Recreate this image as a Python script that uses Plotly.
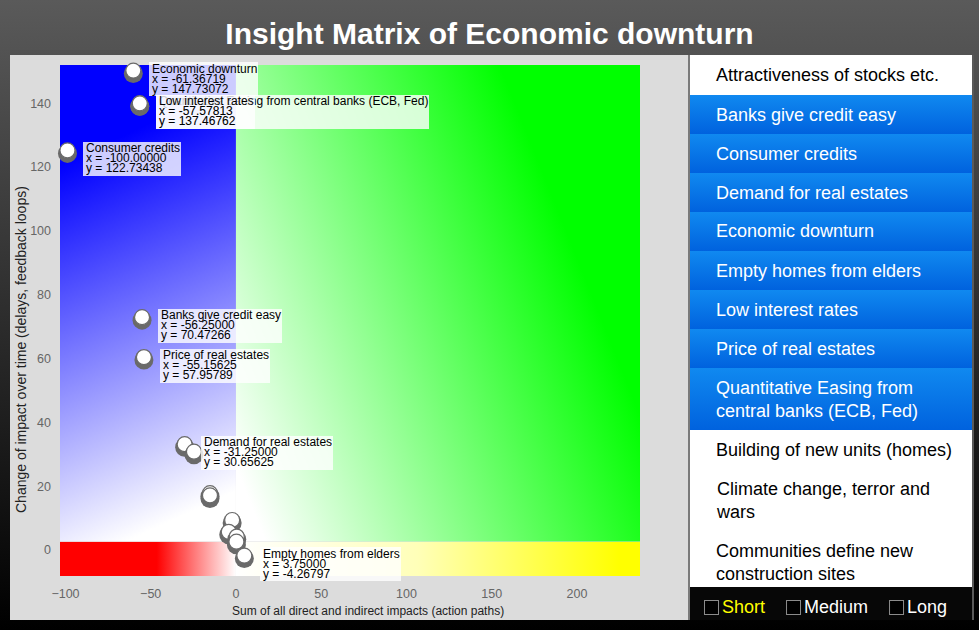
import base64
import plotly.graph_objects as go

# ---------------- data ----------------
chart_title = "Insight Matrix of Economic downturn"
x_axis_title = "Sum of all direct and indirect impacts (action paths)"
y_axis_title = "Change of impact over time (delays, feedback loops)"
x_tick_values = [-100, -50, 0, 50, 100, 150, 200]
y_tick_values = [0, 20, 40, 60, 80, 100, 120, 140]

# factors shown with a label (selected in the list)
labelled_names = [
    "Economic downturn",
    "Quantitative Easing from central banks (ECB, Fed)",
    "Low interest rates",
    "Consumer credits",
    "Banks give credit easy",
    "Price of real estates",
    "Demand for real estates",
    "Empty homes from elders",
]
labelled_x = [-61.36719, -57.57813, -57.57813, -100.0, -56.25, -55.15625, -31.25, 3.75]
labelled_y = [147.73072, 137.46762, 137.46762, 122.73438, 70.47266, 57.95789, 30.65625, -4.26797]

# factors without a label (not selected)
other_x = [-25.8, -16.4, -16.4, -3.4, -5.4, -0.7, -0.9]
other_y = [28.3, 15.3, 14.6, 6.9, 3.2, 1.7, 0.1]

list_items = [
    "Attractiveness of stocks etc.",
    "Banks give credit easy",
    "Consumer credits",
    "Demand for real estates",
    "Economic downturn",
    "Empty homes from elders",
    "Low interest rates",
    "Price of real estates",
    "Quantitative Easing from central banks (ECB, Fed)",
    "Building of new units (homes)",
    "Climate change, terror and wars",
    "Communities define new construction sites",
]
list_selected = [False, True, True, True, True, True, True, True, True, False, False, False]

period_options = ["Short", "Medium", "Long"]
period_active = [True, False, False]

# ---------------- layout constants ----------------
W, H = 979, 630
ML, MR, MT, MB = 60, 339, 65, 54
PW, PH = W - ML - MR, H - MT - MB
X_RANGE = [-103.2, 237.0]
Y_RANGE = [-8.15, 152.0]
X_SPLIT, Y_SPLIT = 0.0, 2.6
XS = PW / (X_RANGE[1] - X_RANGE[0])   # px per x unit
YS = PH / (Y_RANGE[1] - Y_RANGE[0])   # px per y unit
FONT = "Liberation Sans, Arial, Helvetica, sans-serif"


def pxx(px):
    return (px - ML) / PW


def pxy(py):
    return (H - MB - py) / PH


AW = {}
for chars, w in [("ijl", 222), (" ftI.,/:;!", 278), ("r-()", 333), ("cksvxyzJ", 500),
                 ("abdeghnopqu0123456789L", 556), ("=+", 584), ("FTZ", 611),
                 ("ABEKPSVXY", 667), ("CDHNRUw", 722), ("GOQ", 778), ("mM", 833), ("W", 944)]:
    for c in chars:
        AW[c] = w


def text_w(s, size):
    return sum(AW.get(c, 556) for c in s) * size / 1000.0


def wrap(s, size, maxw):
    lines, cur = [], ""
    for word in s.split(" "):
        t = (cur + " " + word) if cur else word
        if cur and text_w(t, size) > maxw:
            lines.append(cur)
            cur = word
        else:
            cur = t
    lines.append(cur)
    return lines


def svg_uri(body, w, h):
    svg = (f'<svg xmlns="http://www.w3.org/2000/svg" width="{w}" height="{h}" '
           f'viewBox="0 0 {w} {h}" preserveAspectRatio="none">{body}</svg>')
    return "data:image/svg+xml;base64," + base64.b64encode(svg.encode()).decode()


def grad_svg(x1, y1, x2, y2, stops):
    st = "".join(f'<stop offset="{o}" stop-color="{c}"/>' for o, c in stops)
    body = (f'<defs><linearGradient id="g" x1="{x1}" y1="{y1}" x2="{x2}" y2="{y2}">{st}'
            f'</linearGradient></defs><rect width="100" height="100" fill="url(#g)"/>')
    return svg_uri(body, 100, 100)


annotations = []
images = []

# ---------------- page background, panel, list ----------------
LIST_X0, LIST_X1, LIST_Y0, LIST_Y1 = 690, 972, 56, 587
ROW_FONT = 18
rows_svg = ""
row_y = LIST_Y0
for name, sel in zip(list_items, list_selected):
    lines = wrap(name, ROW_FONT, 240)
    hgt = 39 + 23 * (len(lines) - 1)
    fill = "url(#row)" if sel else "#ffffff"
    rows_svg += f'<rect x="{LIST_X0}" y="{row_y}" width="{LIST_X1 - LIST_X0}" height="{hgt}" fill="{fill}"/>'
    annotations.append(dict(
        x=pxx(714), y=pxy(row_y + hgt / 2), xref="paper", yref="paper",
        text="<br>".join(lines), showarrow=False, xanchor="left", yanchor="middle", align="left",
        font=dict(family=FONT, size=ROW_FONT, color="#ffffff" if sel else "#000000")))
    row_y += hgt

boxes_svg = ""
cx = 704
for opt, act in zip(period_options, period_active):
    boxes_svg += f'<rect x="{cx + 0.5}" y="600.5" width="14" height="14" fill="#000" stroke="#8c8c8c" stroke-width="1"/>'
    annotations.append(dict(
        x=pxx(cx + 16), y=pxy(607), xref="paper", yref="paper", text=opt, showarrow=False,
        xanchor="left", yanchor="middle",
        font=dict(family=FONT, size=18, color="#ffff00" if act else "#ffffff")))
    cx += 17 + text_w(opt, 18) + 22

page_body = (
    '<defs>'
    '<linearGradient id="bg" x1="0" y1="0" x2="0" y2="1">'
    '<stop offset="0" stop-color="#5a5a5a"/><stop offset="1" stop-color="#000000"/></linearGradient>'
    '<linearGradient id="row" x1="0" y1="0" x2="0" y2="1">'
    '<stop offset="0" stop-color="#1089f0"/><stop offset="1" stop-color="#0062de"/></linearGradient>'
    '</defs>'
    f'<rect width="{W}" height="{H}" fill="url(#bg)"/>'
    '<rect x="10" y="55" width="678" height="565" fill="#dcdcdc"/>'
    '<rect x="688" y="55" width="2" height="565" fill="#7a7a7a"/>'
    f'<rect x="{LIST_X0}" y="55" width="{LIST_X1 - LIST_X0}" height="{LIST_Y1 - 55}" fill="#ffffff"/>'
    + rows_svg +
    f'<rect x="{LIST_X1}" y="55" width="2" height="565" fill="#5a5a5a"/>'
    f'<rect x="{LIST_X0}" y="{LIST_Y1}" width="{LIST_X1 - LIST_X0}" height="{620 - LIST_Y1}" fill="#070707"/>'
    + boxes_svg
)
images.append(dict(source=svg_uri(page_body, W, H), xref="paper", yref="paper",
                   x=pxx(0), y=pxy(0), sizex=W / PW, sizey=H / PH,
                   xanchor="left", yanchor="top", sizing="stretch", layer="below"))

# ---------------- quadrant gradients (data coordinates) ----------------
quads = [
    (X_RANGE[0], Y_RANGE[1], X_SPLIT - X_RANGE[0], Y_RANGE[1] - Y_SPLIT,
     grad_svg(0, 0.21, 0.142, 1.04, [(0, "#0000ff"), (1, "#ffffff")])),
    (X_SPLIT, Y_RANGE[1], X_RANGE[1] - X_SPLIT, Y_RANGE[1] - Y_SPLIT,
     grad_svg(0, 0.8444, 0.8597, 0.4372, [(0, "#ffffff"), (1, "#00ff00")])),
    (X_RANGE[0], Y_SPLIT, X_SPLIT - X_RANGE[0], Y_SPLIT - Y_RANGE[0],
     grad_svg(0, 0, 1, 0, [(0, "#ff0000"), (0.55, "#ff0000"), (1, "#ffffff")])),
    (X_SPLIT, Y_SPLIT, X_RANGE[1] - X_SPLIT, Y_SPLIT - Y_RANGE[0],
     grad_svg(0, 0, 1, 0, [(0, "#ffffff"), (0.45, "#ffffb8"), (0.95, "#ffff00"), (1, "#ffff00")])),
]
for qx, qy, sx, sy, src in quads:
    images.append(dict(source=src, xref="x", yref="y", x=qx, y=qy, sizex=sx, sizey=sy,
                       xanchor="left", yanchor="top", sizing="stretch", layer="below"))

# ---------------- markers (white discs on grey pucks) ----------------
pts = list(zip(labelled_x, labelled_y)) + list(zip(other_x, other_y))
pts = sorted(pts, key=lambda p: -p[1])
SHADOW = "#6a6a6a"
mx, my, ms, mc, mlw = [], [], [], [], []
for x, y in pts:
    mx += [x + 2 / XS, x + 2 / XS]
    my += [y + 5 / YS, y + 8 / YS]
    ms += [19, 15]
    mc += [SHADOW, "#ffffff"]
    mlw += [0, 1.2]

fig = go.Figure()
fig.add_trace(go.Scatter(
    x=mx, y=my, mode="markers", cliponaxis=False, hoverinfo="skip", showlegend=False,
    marker=dict(size=ms, color=mc, opacity=1, line=dict(color=SHADOW, width=mlw))))

# ---------------- point labels ----------------
for name, x, y in zip(labelled_names, labelled_x, labelled_y):
    lines = [name, f"x = {x:.5f}", f"y = {y:.5f}"]
    bw = max(text_w(s, 12) for s in lines) + 4
    annotations.append(dict(
        x=x, y=y, xref="x", yref="y", text=" ", showarrow=False, xanchor="left", yanchor="middle",
        xshift=18, yshift=-0.5, width=bw, height=34, bgcolor="rgba(255,255,255,0.8)",
        borderpad=0, borderwidth=0, font=dict(size=1)))
    for i, s in enumerate(lines):
        annotations.append(dict(
            x=x, y=y, xref="x", yref="y", text=s, showarrow=False, xanchor="left", yanchor="middle",
            xshift=19, yshift=10 - 10 * i, font=dict(family=FONT, size=12, color="#000000")))

# ---------------- axis titles ----------------
annotations.append(dict(x=pxx(368), y=pxy(611), xref="paper", yref="paper", text=x_axis_title,
                        showarrow=False, xanchor="center", yanchor="middle",
                        font=dict(family=FONT, size=12, color="#222222")))
annotations.append(dict(x=pxx(21), y=pxy(350), xref="paper", yref="paper", text=y_axis_title,
                        showarrow=False, xanchor="center", yanchor="middle", textangle=-90,
                        font=dict(family=FONT, size=14, color="#222222")))

fig.update_layout(
    width=W, height=H, autosize=False,
    margin=dict(l=ML, r=MR, t=MT, b=MB, pad=0),
    paper_bgcolor="#000000", plot_bgcolor="rgba(0,0,0,0)",
    title=dict(text=chart_title, x=0.5, xanchor="center", xref="container",
               y=1 - 33 / H, yanchor="middle", yref="container",
               font=dict(family=FONT, size=30, color="#ffffff", weight="bold")),
    xaxis=dict(range=X_RANGE, tickvals=x_tick_values, showgrid=False, zeroline=False,
               showline=False, ticks="", ticklabelstandoff=8,
               tickfont=dict(family=FONT, size=12.5, color="#666666"), fixedrange=True),
    yaxis=dict(range=Y_RANGE, tickvals=y_tick_values, showgrid=False, zeroline=False,
               showline=False, ticks="", ticklabelstandoff=8,
               tickfont=dict(family=FONT, size=12.5, color="#666666"), fixedrange=True),
    images=images, annotations=annotations, showlegend=False, hovermode=False,
)

fig.write_html("out.html")
